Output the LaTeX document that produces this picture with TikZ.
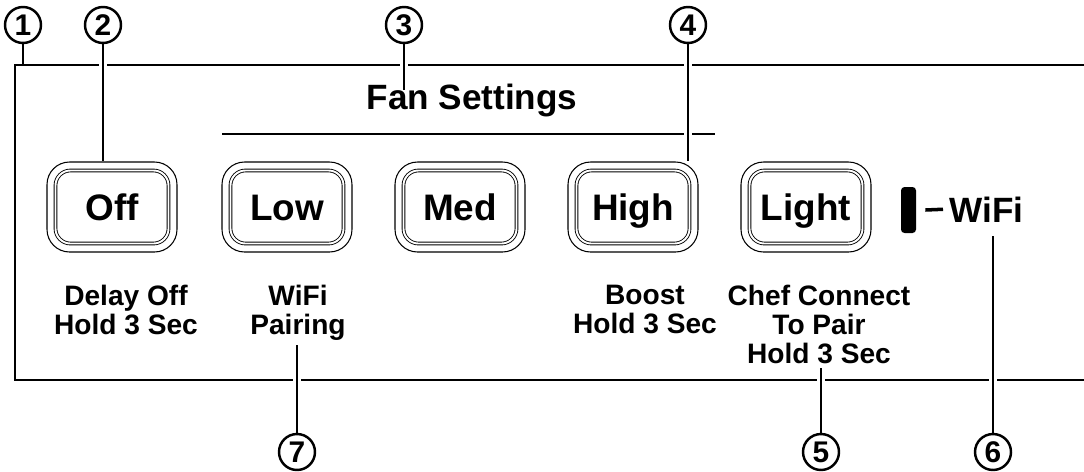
\documentclass[tikz,border=0pt]{standalone}
\usepackage{fontspec}
\setmainfont{Liberation Sans}
\usetikzlibrary{positioning}
\tikzset{
  callout/.style = {draw, circle, line width=1.4pt, minimum size=0.72cm, inner sep=0pt,
    font=\fontsize{17}{17}\selectfont\bfseries},
  leader/.style = {line width=1.3pt,
    preaction={draw=white, line width=5pt, shorten <=4pt, shorten >=4pt}},
  button/.style = {draw, line width=0.6pt, rounded corners=0.45cm, minimum width=2.6cm,
    minimum height=1.8cm, text height=15pt, text depth=0pt, font=\fontsize{21}{21}\selectfont\bfseries},
  buttonrim/.style = {draw, double, double distance=1.1pt, line width=0.5pt, rounded corners=0.3cm},
  hint/.style = {align=center, anchor=north, inner sep=0pt, font=\fontsize{16}{16.3}\selectfont\bfseries},
  panel/.style = {line width=1.4pt}
}

\begin{document}
\begin{tikzpicture}[x=0.02cm, y=-0.02cm]

  \useasboundingbox (0,0) rectangle (1084,471);

  %% Panel
  \coordinate (paneltl) at (15,65);
  \draw[panel] (1090,65) -| (15,380) -- (1090,380);

  % Fan settings heading
  \node[anchor=base, inner sep=0pt, font=\fontsize{20}{20}\selectfont\bfseries] (fan) at (472,109) {Fan Settings};
  \draw[panel] (222,134) -- (715,134);

  % Buttons
  \node[button] (off) at (112,207) {Off};
  \node[button] (low) at (287,207) {Low};
  \node[button] (med) at (460,207) {Med};
  \node[button] (high) at (633,207) {High};
  \node[button] (light) at (806,207) {Light};
  \draw[buttonrim] ([shift={(0.18cm,0.18cm)}]off.south west) rectangle ([shift={(-0.18cm,-0.18cm)}]off.north east);
  \draw[buttonrim] ([shift={(0.18cm,0.18cm)}]low.south west) rectangle ([shift={(-0.18cm,-0.18cm)}]low.north east);
  \draw[buttonrim] ([shift={(0.18cm,0.18cm)}]med.south west) rectangle ([shift={(-0.18cm,-0.18cm)}]med.north east);
  \draw[buttonrim] ([shift={(0.18cm,0.18cm)}]high.south west) rectangle ([shift={(-0.18cm,-0.18cm)}]high.north east);
  \draw[buttonrim] ([shift={(0.18cm,0.18cm)}]light.south west) rectangle ([shift={(-0.18cm,-0.18cm)}]light.north east);

  % WiFi indicator
  \node[fill, rounded corners=2pt, minimum width=0.3cm, minimum height=0.92cm, inner sep=0pt] (led) at (908.5,210) {};
  \node[anchor=base west, inner sep=0pt, font=\fontsize{20}{20}\selectfont\bfseries] (wifi) at (949,222) {WiFi};
  \draw[line width=2pt] ([xshift=0.18cm]led.east) -- ([xshift=-0.12cm]wifi.west);

  % Hold hints
  \node[hint] (delay) at (126,285) {Delay Off\\Hold 3 Sec};
  \node[hint] (pair) at (298,285) {WiFi\\Pairing};
  \node[hint] (boost) at (645,285) {Boost\\Hold 3 Sec};
  \node[hint] (chef) at (819,285) {Chef Connect\\To Pair\\Hold 3 Sec};

  %% Callouts
  \node[callout] (c1) at (23,25) {1};
  \node[callout] (c2) at (103,25) {2};
  \node[callout] (c3) at (404,25) {3};
  \node[callout] (c4) at (688,25) {4};
  \node[callout] (c5) at (821,452) {5};
  \node[callout] (c6) at (993,452) {6};
  \node[callout] (c7) at (297,452) {7};

  \coordinate (fantip) at (404,90);
  \coordinate (wifitip) at (993,236);

  % Leaders
  \draw[leader] (c1) -- (c1 |- paneltl);
  \draw[leader] (c2) -- (c2 |- off.north);
  \draw[leader] (c3) -- (fantip);
  \draw[leader] (c4) -- (c4 |- high.north);
  \draw[leader] (c5) -- ([yshift=-0.08cm]c5 |- chef.south);
  \draw[leader] (c6) -- (wifitip);
  \draw[leader] (c7) -- ([yshift=-0.08cm]c7 |- pair.south);

\end{tikzpicture}
\end{document}
